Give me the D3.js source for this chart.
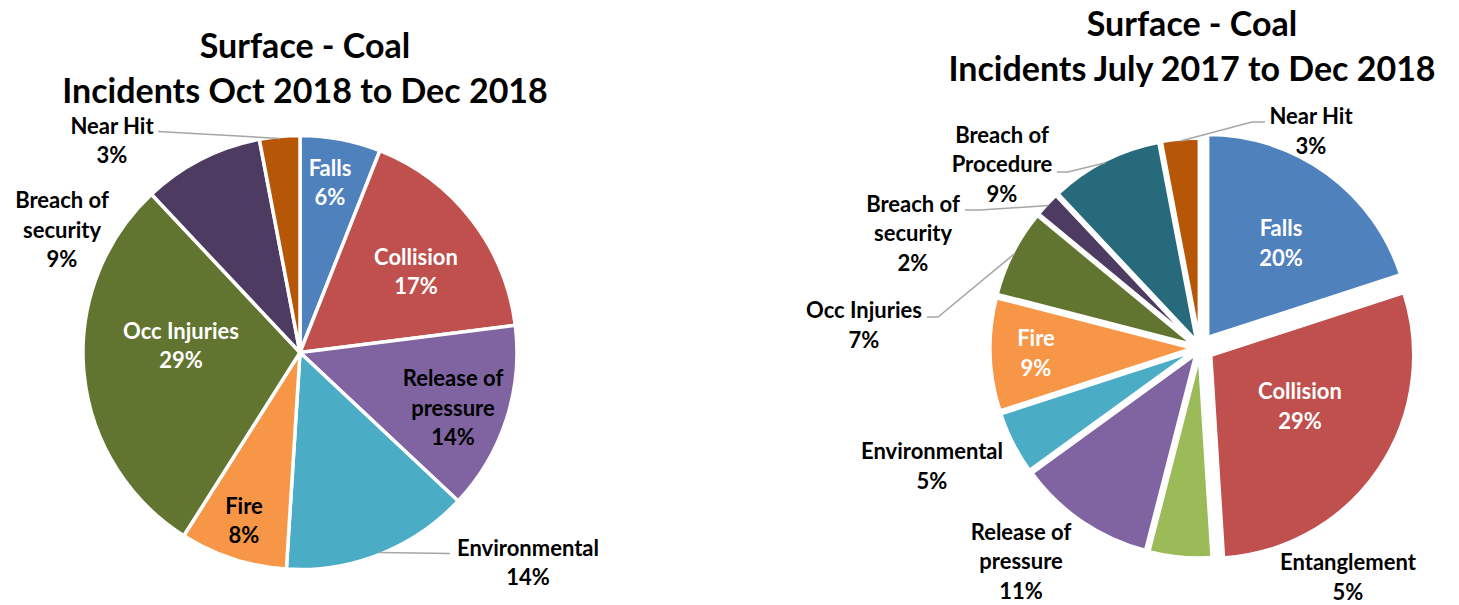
<!doctype html>
<html>
  <head>
    <script src="https://cdnjs.cloudflare.com/ajax/libs/d3/7.8.5/d3.min.js"></script>
    <style>
      body { margin: 0; background: #fff; }
      text { font-family: Lato, "Open Sans", sans-serif; font-weight: bold; text-anchor: middle; }
      .title { font-size: 34px; fill: #000; }
      .lbl { font-size: 22px; }
      path.slice { stroke: #fff; stroke-width: 3.5px; }
      .leader { fill: none; stroke: #A6A6A6; stroke-width: 1.5px; }
    </style>
  </head>
  <body>
    <svg width="1459" height="605"></svg>
    <script>
      // chart values
      var leftTitle = ["Surface - Coal", "Incidents Oct 2018 to Dec 2018"];
      var leftCategories = ["Falls", "Collision", "Release of pressure", "Environmental", "Fire", "Occ Injuries", "Breach of security", "Near Hit"];
      var leftValues = [6, 17, 14, 14, 8, 29, 9, 3];

      var rightTitle = ["Surface - Coal", "Incidents July 2017 to Dec 2018"];
      var rightCategories = ["Falls", "Collision", "Entanglement", "Release of pressure", "Environmental", "Fire", "Occ Injuries", "Breach of security", "Breach of Procedure", "Near Hit"];
      var rightValues = [20, 29, 5, 11, 5, 9, 7, 2, 9, 3];

      var colors = {
        "Falls": "#4F81BD",
        "Collision": "#C0504D",
        "Entanglement": "#9BBB59",
        "Release of pressure": "#8064A2",
        "Environmental": "#4BACC6",
        "Fire": "#F79646",
        "Occ Injuries": "#617530",
        "Breach of security": "#4D3B62",
        "Breach of Procedure": "#276A7C",
        "Near Hit": "#B65708"
      };

      var lineBreaks = {
        "Release of pressure": ["Release of", "pressure"],
        "Breach of security": ["Breach of", "security"],
        "Breach of Procedure": ["Breach of", "Procedure"]
      };

      // label placement (offset from pie centre), text colour, optional leader [label end, elbow]
      var leftLayout = {
        "Falls": { at: [30, -170], fill: "#fff" },
        "Collision": { at: [116, -81], fill: "#fff" },
        "Release of pressure": { at: [153, 55], fill: "#000" },
        "Environmental": { at: [228, 210], fill: "#000", leader: [[150, 201]] },
        "Fire": { at: [-56, 168], fill: "#000" },
        "Occ Injuries": { at: [-119, -7], fill: "#fff" },
        "Breach of security": { at: [-238, -123], fill: "#000" },
        "Near Hit": { at: [-188, -212], fill: "#000", leader: [[-142, -221]] }
      };

      var rightLayout = {
        "Falls": { at: [81, -105], fill: "#fff", explode: 13 },
        "Collision": { at: [100, 58], fill: "#fff", explode: 13 },
        "Entanglement": { at: [148, 229], fill: "#000" },
        "Release of pressure": { at: [-179, 213], fill: "#000" },
        "Environmental": { at: [-268, 118], fill: "#000" },
        "Fire": { at: [-164, 5], fill: "#fff" },
        "Occ Injuries": { at: [-336, -23], fill: "#000", leader: [[-273, -31], [-262, -31]] },
        "Breach of security": { at: [-287, -115], fill: "#000", leader: [[-235, -138], [-220, -138]] },
        "Breach of Procedure": { at: [-198, -184], fill: "#000", leader: [[-143, -176], [-132, -176]] },
        "Near Hit": { at: [111, -217], fill: "#000", leader: [[65, -226], [52, -226]] }
      };

      var svg = d3.select("svg");

      drawPie({ cx: 300, cy: 352.5, r: 217, explode: 0, titleX: 305, titleY: [58, 103],
                title: leftTitle, cats: leftCategories, vals: leftValues, layout: leftLayout });
      drawPie({ cx: 1200, cy: 348, r: 203, explode: 7, titleX: 1192, titleY: [36, 81],
                title: rightTitle, cats: rightCategories, vals: rightValues, layout: rightLayout });

      function drawPie(cfg) {
        var g = svg.append("g").attr("transform", `translate(${cfg.cx},${cfg.cy})`);

        svg.selectAll(null)
          .data(cfg.title)
          .enter()
          .append("text")
            .attr("class", "title")
            .attr("x", cfg.titleX)
            .attr("y", (d, i) => cfg.titleY[i])
            .text(d => d);

        var rows = cfg.cats.map((c, i) => ({ cat: c, value: cfg.vals[i] }));
        var pie = d3.pie().sort(null).value(d => d.value);
        var arc = d3.arc().innerRadius(0).outerRadius(cfg.r);
        var arcs = pie(rows);

        function offsetOf(d) {
          var lay = cfg.layout[d.data.cat];
          return lay.explode != null ? lay.explode : cfg.explode;
        }
        function dir(d) {
          var a = (d.startAngle + d.endAngle) / 2;
          return [Math.sin(a), -Math.cos(a)];
        }

        g.selectAll("path.slice")
          .data(arcs)
          .enter()
          .append("path")
            .attr("class", "slice")
            .attr("fill", d => colors[d.data.cat])
            .attr("transform", d => {
              var v = dir(d), o = offsetOf(d);
              return `translate(${v[0] * o},${v[1] * o})`;
            })
            .attr("d", arc);

        // leader lines
        g.selectAll("path.leader")
          .data(arcs.filter(d => cfg.layout[d.data.cat].leader))
          .enter()
          .append("path")
            .attr("class", "leader")
            .attr("d", d => {
              var v = dir(d), rr = cfg.r + offsetOf(d) - 2;
              var pts = cfg.layout[d.data.cat].leader.slice();
              pts.push([v[0] * rr, v[1] * rr]);
              return d3.line()(pts);
            });

        // labels
        var lab = g.selectAll("text.lbl")
          .data(arcs)
          .enter()
          .append("text")
            .attr("class", "lbl")
            .attr("fill", d => cfg.layout[d.data.cat].fill);

        lab.each(function (d) {
          var lay = cfg.layout[d.data.cat];
          var lines = (lineBreaks[d.data.cat] || [d.data.cat]).concat([d.data.value + "%"]);
          var lh = 29.5;
          var y0 = lay.at[1] - (lines.length - 1) * lh / 2 + 8;
          d3.select(this).selectAll("tspan")
            .data(lines)
            .enter()
            .append("tspan")
              .attr("x", lay.at[0])
              .attr("y", (t, i) => y0 + i * lh)
              .text(t => t);
        });
      }
    </script>
  </body>
</html>
